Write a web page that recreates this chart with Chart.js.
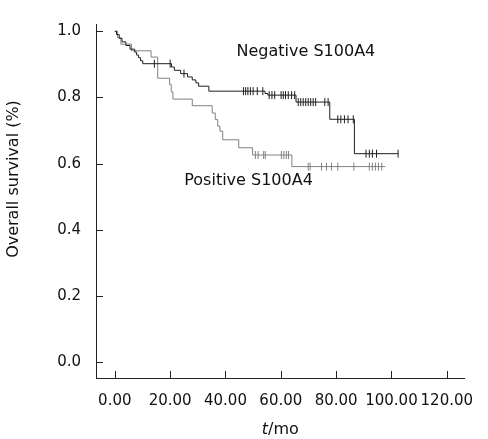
<html>

<head>
  <meta charset="utf-8">
  <title>Overall survival by S100A4</title>
  <style>
    html,
    body {
      padding: 0;
      margin: 0;
      background: #fff;
      overflow: hidden;
    }

    #chart {
      display: block;
    }
  </style>
  <script src="https://cdn.jsdelivr.net/npm/chart.js@4/dist/chart.umd.min.js"></script>
</head>

<body>
  <canvas id="chart" width="488" height="439"></canvas>

  <script>
    // Kaplan-Meier steps (time in months, survival)
    var negTimes = [0, 0.6, 1.6, 2.6, 4.0, 5.5, 7.2, 7.9, 8.6, 9.3, 10.1, 20.5, 21.5, 23.8, 26.3, 28.0, 29.3, 30.3, 34.0, 54.3, 55.3, 65.5, 77.7, 86.6, 102.4];
    var negSurv = [1.0, 0.99, 0.979, 0.968, 0.957, 0.946, 0.937, 0.928, 0.92, 0.911, 0.902, 0.892, 0.882, 0.872, 0.862, 0.853, 0.844, 0.834, 0.819, 0.812, 0.807, 0.786, 0.734, 0.630, 0.630];
    var negCensor = [14.3, 20.0, 25.0, 46.5, 47.3, 48.1, 49.0, 50.0, 51.5, 53.5, 55.8, 56.8, 57.8, 60.1, 60.9, 61.7, 62.7, 63.9, 65.0, 66.3, 67.2, 68.1, 69.0, 69.9, 70.8, 71.7, 72.6, 75.9, 77.1, 80.6, 81.7, 83.0, 84.3, 86.2, 90.8, 92.0, 93.1, 94.6, 102.4];

    var posTimes = [0, 1.0, 2.2, 6.0, 13.1, 15.5, 19.8, 20.4, 21.0, 28.0, 35.2, 36.3, 37.2, 38.0, 39.0, 44.8, 49.8, 64.0, 97.8];
    var posSurv = [1.0, 0.98, 0.961, 0.941, 0.922, 0.858, 0.839, 0.817, 0.795, 0.775, 0.753, 0.733, 0.713, 0.698, 0.672, 0.648, 0.626, 0.591, 0.591];
    var posCensor = [50.8, 51.8, 53.8, 54.4, 60.2, 61.1, 62.0, 62.8, 69.9, 70.6, 74.7, 76.5, 78.3, 80.6, 86.4, 92.0, 93.1, 94.2, 95.3, 96.5];

    var xTicks = [0, 20, 40, 60, 80, 100, 120];
    var yTicks = [0, 0.2, 0.4, 0.6, 0.8, 1.0];

    var negColor = '#1e1e1e';
    var posColor = '#808080';

    function toPoints(times, surv) {
      return times.map(function (t, i) { return { x: t, y: surv[i] }; });
    }

    // censored marks sit on the step curve
    function censorPoints(cens, times, surv) {
      return cens.map(function (t) {
        var s = surv[0];
        for (var i = 0; i < times.length; i++) {
          if (times[i] <= t) s = surv[i];
        }
        return { x: t, y: s };
      });
    }

    Chart.defaults.font.family = 'DejaVu Sans';
    Chart.defaults.color = '#111';

    var decor = {
      id: 'decor',
      afterDraw: function (chart) {
        var ctx = chart.ctx, a = chart.chartArea, x = chart.scales.x, y = chart.scales.y;
        ctx.save();
        // inward tick marks
        ctx.strokeStyle = '#222';
        ctx.lineWidth = 1;
        ctx.beginPath();
        x.ticks.forEach(function (t) {
          var px = Math.round(x.getPixelForValue(t.value)) + 0.5;
          ctx.moveTo(px, a.bottom);
          ctx.lineTo(px, a.bottom - 7);
        });
        y.ticks.forEach(function (t) {
          var py = Math.round(y.getPixelForValue(t.value)) + 0.5;
          ctx.moveTo(a.left, py);
          ctx.lineTo(a.left + 7, py);
        });
        ctx.stroke();

        ctx.fillStyle = '#111';
        ctx.textBaseline = 'middle';

        // group labels
        ctx.font = '16px "DejaVu Sans"';
        ctx.textAlign = 'left';
        ctx.fillText('Negative S100A4', x.getPixelForValue(44), y.getPixelForValue(0.938));
        ctx.fillText('Positive S100A4', x.getPixelForValue(25.1), y.getPixelForValue(0.547));

        // x title: italic t
        var cx = (a.left + a.right) / 2;
        ctx.font = 'italic 16px "DejaVu Sans"';
        var w1 = ctx.measureText('t').width;
        ctx.font = '16px "DejaVu Sans"';
        var w2 = ctx.measureText('/mo').width;
        var sx = cx - (w1 + w2) / 2;
        ctx.font = 'italic 16px "DejaVu Sans"';
        ctx.fillText('t', sx, 430);
        ctx.font = '16px "DejaVu Sans"';
        ctx.fillText('/mo', sx + w1, 430);

        // y title
        ctx.translate(14, 179);
        ctx.rotate(-Math.PI / 2);
        ctx.textAlign = 'center';
        ctx.fillText('Overall survival (%)', 0, 0);
        ctx.restore();
      }
    };

    var ctx = document.getElementById('chart').getContext('2d');
    var chart = new Chart(ctx, {
      type: 'line',
      data: {
        datasets: [{
          label: 'Negative S100A4',
          data: toPoints(negTimes, negSurv),
          stepped: 'before',
          borderColor: negColor,
          borderWidth: 1,
          pointRadius: 0,
          fill: false
        },
        {
          label: 'Positive S100A4',
          data: toPoints(posTimes, posSurv),
          stepped: 'before',
          borderColor: posColor,
          borderWidth: 1,
          pointRadius: 0,
          fill: false
        },
        {
          label: 'Negative censored',
          data: censorPoints(negCensor, negTimes, negSurv),
          showLine: false,
          pointStyle: 'line',
          rotation: 90,
          pointRadius: 4,
          borderColor: negColor,
          borderWidth: 1
        },
        {
          label: 'Positive censored',
          data: censorPoints(posCensor, posTimes, posSurv),
          showLine: false,
          pointStyle: 'line',
          rotation: 90,
          pointRadius: 4,
          borderColor: posColor,
          borderWidth: 1
        }
        ]
      },
      options: {
        responsive: false,
        devicePixelRatio: 1,
        animation: false,
        layout: { padding: { top: 13, right: 20, left: 0, bottom: 0 } },
        plugins: {
          legend: { display: false },
          tooltip: { enabled: false }
        },
        scales: {
          x: {
            type: 'linear',
            min: -6.8,
            max: 126.4,
            afterBuildTicks: function (axis) {
              axis.ticks = xTicks.map(function (v) { return { value: v }; });
            },
            afterFit: function (axis) { axis.height = 61; },
            grid: { drawOnChartArea: false, drawTicks: false },
            border: { display: true, color: '#222', width: 1 },
            ticks: {
              padding: 14,
              maxRotation: 0,
              autoSkip: false,
              font: { size: 15 },
              callback: function (v) { return Number(v).toFixed(2); }
            }
          },
          y: {
            type: 'linear',
            min: -0.048,
            max: 1.022,
            afterBuildTicks: function (axis) {
              axis.ticks = yTicks.map(function (v) { return { value: v }; });
            },
            afterFit: function (axis) { axis.width = 96; },
            grid: { drawOnChartArea: false, drawTicks: false },
            border: { display: true, color: '#222', width: 1 },
            ticks: {
              padding: 15,
              autoSkip: false,
              font: { size: 15 },
              callback: function (v) { return Number(v).toFixed(1); }
            }
          }
        }
      },
      plugins: [decor]
    });
  </script>
</body>

</html>
